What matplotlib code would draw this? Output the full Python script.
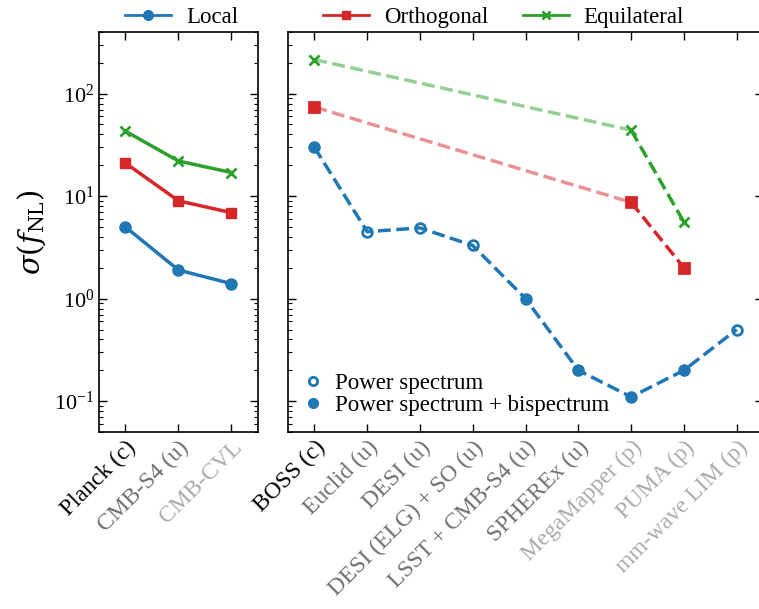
import numpy as np
import matplotlib.pyplot as plt
from matplotlib.lines import Line2D

plt.rcParams["font.family"] = ["Liberation Serif", "DejaVu Serif"]
plt.rcParams["mathtext.fontset"] = "dejavusans"

# ── Data ──────────────────────────────────────────────────────────────────────
cmb_names = ["Planck (c)", "CMB-S4 (u)", "CMB-CVL"]
cmb_colors = ["black", "#707070", "#ababab"]
cmb_local = [5.0, 1.9, 1.4]
cmb_ortho = [21.0, 9.0, 6.9]
cmb_equil = [43.0, 22.0, 17.0]

lss_names = ["BOSS (c)", "Euclid (u)", "DESI (u)", "DESI (ELG) + SO (u)",
             "LSST + CMB-S4 (u)", "SPHEREx (u)", "MegaMapper (p)",
             "PUMA (p)", "mm-wave LIM (p)"]
lss_colors = ["black"] + ["#707070"] * 5 + ["#ababab"] * 3
lss_local = [30.0, 4.5, 4.9, 3.3, 1.0, 0.2, 0.11, 0.2, 0.5]
lss_local_bispec = [True, False, False, False, True, True, True, True, False]
# orthogonal / equilateral only for BOSS, MegaMapper, PUMA
lss_nl_idx = [0, 6, 7]
lss_ortho = [74.0, 8.7, 2.0]
lss_equil = [215.0, 44.0, 5.6]

C_LOC, C_ORT, C_EQU = "#1f77b4", "#d62728", "#2ca02c"

# ── Figure ────────────────────────────────────────────────────────────────────
fig = plt.figure(figsize=(7.59, 6.09), dpi=100)
ax1 = fig.add_axes([0.1304, 0.2906, 0.2095, 0.657])
ax2 = fig.add_axes([0.3794, 0.2906, 0.626, 0.657], sharey=ax1)

lw, ms = 2.5, 8

x = np.arange(len(cmb_names))
ax1.plot(x, cmb_local, "-o", color=C_LOC, lw=lw, ms=ms)
ax1.plot(x, cmb_ortho, "-s", color=C_ORT, lw=lw, ms=ms - 1)
ax1.plot(x, cmb_equil, "-x", color=C_EQU, lw=lw, ms=ms - 1, mew=2)

xs = np.arange(len(lss_names))
bis = np.array(lss_local_bispec)
loc = np.array(lss_local)
ax2.plot(xs, loc, "--", color=C_LOC, lw=lw)
ax2.plot(xs[bis], loc[bis], "o", color=C_LOC, ms=ms)
ax2.plot(xs[~bis], loc[~bis], "o", mfc="none", mec=C_LOC, mew=2, ms=ms - 1)

xi = np.array(lss_nl_idx)
for vals, mk, c in [(lss_ortho, "s", C_ORT), (lss_equil, "x", C_EQU)]:
    ax2.plot(xi[:2], vals[:2], "--", color=c, lw=lw, alpha=0.5)
    ax2.plot(xi[1:], vals[1:], "--", color=c, lw=lw)
    ax2.plot(xi, vals, mk, color=c, ms=ms - 1, mew=2)

ax1.set_yscale("log")
ax1.set_ylim(0.05, 400)
ax1.set_xlim(-0.5, 2.5)
ax2.set_xlim(-0.5, 8.5)

for ax, names, cols in [(ax1, cmb_names, cmb_colors), (ax2, lss_names, lss_colors)]:
    ax.set_xticks(np.arange(len(names)))
    ax.set_xticklabels(names, rotation=45, ha="right", rotation_mode="anchor",
                       fontsize=17)
    for lab, c in zip(ax.get_xticklabels(), cols):
        lab.set_color(c)
    ax.tick_params(which="both", direction="in", top=True, right=True)
    ax.tick_params(which="major", length=6, width=1)
    ax.tick_params(which="minor", length=3, width=0.8)
    for s in ax.spines.values():
        s.set_linewidth(1.2)

ax1.tick_params(axis="y", labelsize=16)
ax2.tick_params(axis="y", labelleft=False)
ax1.set_ylabel(r"$\sigma(f_{\rm NL})$", fontsize=21, math_fontfamily="dejavuserif",
               labelpad=4)

# inner legend
leg_in = [
    Line2D([0], [0], ls="none", marker="o", mfc="none", mec=C_LOC, mew=2, ms=6,
           label="Power spectrum"),
    Line2D([0], [0], ls="none", marker="o", color=C_LOC, ms=7,
           label="Power spectrum + bispectrum"),
]
ax2.legend(handles=leg_in, loc="lower left", frameon=False, fontsize=16.5,
           handletextpad=0.45, borderaxespad=0.2, labelspacing=0.05,
           handlelength=1.0, bbox_to_anchor=(0.0, 0.005))

# top legend: one entry per column, evenly spaced
leg_top = [
    Line2D([0], [0], color=C_LOC, lw=2, marker="o", ms=7, label="Local"),
    Line2D([0], [0], color=C_ORT, lw=2, marker="s", ms=6, label="Orthogonal"),
    Line2D([0], [0], color=C_EQU, lw=2, marker="x", ms=6, mew=2, label="Equilateral"),
]
for h, x0 in zip(leg_top, [0.156, 0.417, 0.68]):
    fig.legend(handles=[h], loc="upper left", frameon=False, fontsize=16.5,
               bbox_to_anchor=(x0, 1.0), handlelength=2.0, handletextpad=0.65,
               borderaxespad=0.0, borderpad=0.3)

fig.savefig("out.png", dpi=100)
